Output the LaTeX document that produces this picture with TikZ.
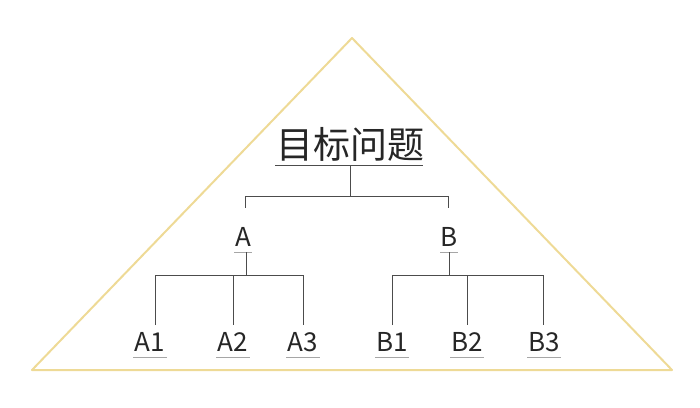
\documentclass[tikz,border=0pt]{standalone}
\usepackage{fontspec}
\setmainfont{Noto Sans CJK SC}
\definecolor{tri}{RGB}{238,218,150}
\tikzset{
  lbl/.style={inner sep=0pt, font=\fontsize{26}{26}\selectfont, text=black!85},
  ul/.style={draw=black!35, line width=1pt},
  br/.style={draw=black!70, line width=0.9pt}
}
\begin{document}
\begin{tikzpicture}[x=1pt,y=-1pt]
\useasboundingbox (0,0) rectangle (700,407);
\draw[draw=tri, line width=2pt, line join=round] (352,38) -- (32,370) -- (672,370) -- cycle;

\node[lbl, font=\fontsize{37}{37}\selectfont] (goal) at (350,144) {目标问题};
\draw[draw=black!70, line width=1pt] (275,165) -- (423,165);
\coordinate (g) at (350,165);

\node[lbl] (A) at (243,237) {A};
\node[lbl] (B) at (449,237) {B};
\draw[br] (g) -- (350,196) -| (245,208);
\draw[br] (350,196) -| (448,208);

\draw[ul] (234,252) -- (252,252);
\draw[ul] (440,252) -- (458,252);
\coordinate (a) at (246,252);
\coordinate (b) at (449,252);

\node[lbl] (A1) at (150,342) {A1};
\node[lbl] (A2) at (233,342) {A2};
\node[lbl] (A3) at (303,342) {A3};
\node[lbl] (B1) at (392,342) {B1};
\node[lbl] (B2) at (467,342) {B2};
\node[lbl] (B3) at (544,342) {B3};

\draw[br] (a) -- (246,275);
\draw[br] (155,325) |- (303,275) -- (303,325);
\draw[br] (233,275) -- (233,325);
\draw[br] (b) -- (449,275);
\draw[br] (392,325) |- (543,275) -- (543,325);
\draw[br] (467,275) -- (467,325);

\foreach \n in {A1,A2,A3,B1,B2,B3}
  \draw[ul] ([xshift=-17pt,yshift=-15pt]\n.center) -- ([xshift=17pt,yshift=-15pt]\n.center);
\end{tikzpicture}
\end{document}
